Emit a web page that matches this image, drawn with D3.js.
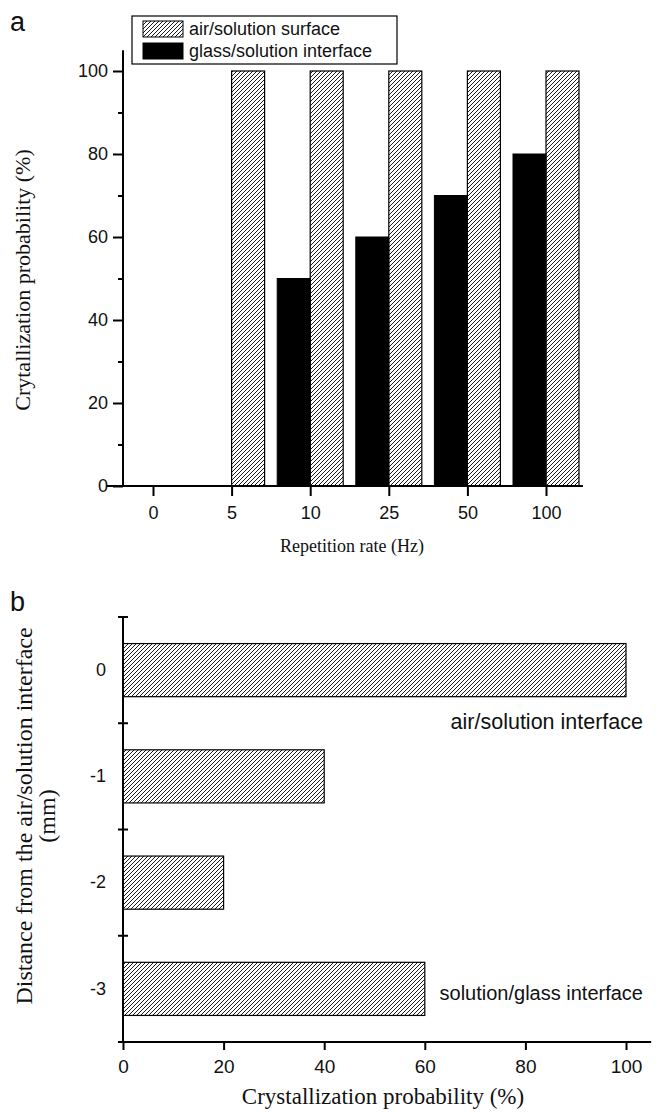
<!DOCTYPE html>
<html>
<head>
<meta charset="utf-8">
<script src="https://cdnjs.cloudflare.com/ajax/libs/d3/7.8.5/d3.min.js"></script>
<style>
  body { margin: 0; background: #fff; }
  .title { font-family: "Liberation Serif", "Times New Roman", serif; fill: #111; }
  .sans { font-family: "Liberation Sans", Arial, sans-serif; fill: #111; }
</style>
</head>
<body>
<script>
// panel a data
var rates = ["0", "5", "10", "25", "50", "100"];
var airSurface = [0, 100, 100, 100, 100, 100];
var glassInterface = [0, 0, 50, 60, 70, 80];
var yTicksA = [0, 20, 40, 60, 80, 100];
var yMinorA = [10, 30, 50, 70, 90];

// panel b data
var distances = ["0", "-1", "-2", "-3"];
var probability = [100, 40, 20, 60];
var xTicksB = [0, 20, 40, 60, 80, 100];

var W = 660, H = 1112;

var svg = d3.select("body").append("svg")
    .attr("width", W)
    .attr("height", H);

// style the tick labels of an axis group
function tickFont(g, size) {
  g.selectAll("text")
    .style("font-family", "'Liberation Sans', Arial, sans-serif")
    .style("font-size", size + "px")
    .style("fill", "#111");
}

// hatch pattern
var defs = svg.append("defs");
defs.append("pattern")
    .attr("id", "hatch")
    .attr("patternUnits", "userSpaceOnUse")
    .attr("width", 4)
    .attr("height", 4)
  .append("path")
    .attr("d", "M-1,1 l2,-2 M0,4 l4,-4 M3,5 l2,-2")
    .attr("stroke", "#1a1a1a")
    .attr("stroke-width", 1);

// ---------- panel a ----------
var yA = d3.scaleLinear().domain([0, 100]).range([486, 71]);
var xA = d3.scalePoint().domain(rates).range([153, 546]);
var barW = 33;

svg.append("text").attr("class", "sans")
    .attr("x", 10).attr("y", 31)
    .style("font-size", "27px")
    .text("a");

// black bars: left of the tick
svg.selectAll(".glass")
    .data(glassInterface)
    .enter().append("rect")
    .attr("class", "glass")
    .attr("x", function(d, i) { return xA(rates[i]) - barW; })
    .attr("y", function(d) { return yA(d); })
    .attr("width", barW)
    .attr("height", function(d) { return yA(0) - yA(d); })
    .attr("fill", "#000")
    .attr("stroke", d => d > 0 ? "#000" : "none");

// hatched bars: right of the tick
svg.selectAll(".air")
    .data(airSurface)
    .enter().append("rect")
    .attr("class", "air")
    .attr("x", function(d, i) { return xA(rates[i]); })
    .attr("y", function(d) { return yA(d); })
    .attr("width", barW)
    .attr("height", function(d) { return yA(0) - yA(d); })
    .attr("fill", "url(#hatch)")
    .attr("stroke", d => d > 0 ? "#000" : "none")
    .attr("stroke-width", 1.2);

// y axis
var gyA = svg.append("g")
    .attr("transform", "translate(123,0)")
    .call(d3.axisLeft(yA).tickValues(yTicksA).tickSize(10).tickPadding(5).tickSizeOuter(0));
gyA.select(".domain").remove();
gyA.selectAll("line").attr("stroke-width", 2);
tickFont(gyA, 18);

var gyAm = svg.append("g")
    .attr("transform", "translate(123,0)")
    .call(d3.axisLeft(yA).tickValues(yMinorA).tickSize(5).tickFormat(""));
gyAm.select(".domain").remove();
gyAm.selectAll("line").attr("stroke-width", 2);

svg.append("line")
    .attr("x1", 123).attr("x2", 123)
    .attr("y1", yA(0)).attr("y2", yA(105))
    .attr("stroke", "#000").attr("stroke-width", 2);

// x axis
var stepA = xA.step();
var gxA = svg.append("g")
    .attr("transform", "translate(0," + yA(0) + ")")
    .call(d3.axisBottom(xA).tickSize(10).tickPadding(10));
gxA.select(".domain").remove();
gxA.selectAll("line").attr("stroke-width", 2);
tickFont(gxA, 18);

svg.append("line")
    .attr("x1", xA(rates[0]) - 0.59 * stepA)
    .attr("x2", xA(rates[rates.length - 1]) + 0.47 * stepA)
    .attr("y1", yA(0)).attr("y2", yA(0))
    .attr("stroke", "#000").attr("stroke-width", 2);

svg.append("text").attr("class", "title")
    .attr("text-anchor", "middle")
    .attr("x", 352).attr("y", 552)
    .style("font-size", "18px")
    .text("Repetition rate (Hz)");

svg.append("text").attr("class", "title")
    .attr("text-anchor", "middle")
    .attr("transform", "translate(30,280) rotate(-90)")
    .style("font-size", "22px")
    .text("Crytallization probability (%)");

// legend
var legend = svg.append("g");
legend.append("rect")
    .attr("x", 132).attr("y", 16)
    .attr("width", 265).attr("height", 48)
    .attr("fill", "#fff").attr("stroke", "#000").attr("stroke-width", 1.2);
var legendItems = [
  {label: "air/solution surface", fill: "url(#hatch)"},
  {label: "glass/solution interface", fill: "#000"}
];
legend.selectAll(".sw")
    .data(legendItems)
    .enter().append("rect")
    .attr("x", 143)
    .attr("y", function(d, i) { return 21 + i * 22; })
    .attr("width", 40).attr("height", 16)
    .attr("fill", d => d.fill)
    .attr("stroke", "#000");
legend.selectAll(".lt")
    .data(legendItems)
    .enter().append("text")
    .attr("class", "sans")
    .attr("x", 189)
    .attr("y", function(d, i) { return 35 + i * 22; })
    .style("font-size", "18px")
    .text(d => d.label);

// ---------- panel b ----------
var xB = d3.scaleLinear().domain([0, 100]).range([123, 626]);
var yB = d3.scaleBand().domain(distances).range([617, 1042])
    .paddingInner(0.5).paddingOuter(0.25);
var stepB = yB.step();

svg.append("text").attr("class", "sans")
    .attr("x", 10).attr("y", 611)
    .style("font-size", "27px")
    .text("b");

svg.selectAll(".dist")
    .data(probability)
    .enter().append("rect")
    .attr("class", "dist")
    .attr("x", xB(0))
    .attr("y", function(d, i) { return yB(distances[i]); })
    .attr("width", function(d) { return xB(d) - xB(0); })
    .attr("height", yB.bandwidth())
    .attr("fill", "url(#hatch)")
    .attr("stroke", "#000")
    .attr("stroke-width", 1.2);

// y axis: labels at band centres, crossing ticks at band borders
var gyB = svg.append("g")
    .attr("transform", "translate(123,0)")
    .call(d3.axisLeft(yB).tickSize(0).tickPadding(17));
gyB.select(".domain").remove();
tickFont(gyB, 18);

var borders = d3.range(distances.length).map(function(i) { return yB.range()[0] + i * stepB; });
svg.selectAll(".border")
    .data(borders)
    .enter().append("line")
    .attr("x1", 118).attr("x2", 128)
    .attr("y1", d => d).attr("y2", d => d)
    .attr("stroke", "#000").attr("stroke-width", 2);

svg.append("line")
    .attr("x1", 123).attr("x2", 123)
    .attr("y1", yB.range()[0]).attr("y2", yB.range()[1])
    .attr("stroke", "#000").attr("stroke-width", 2);

// x axis
var gxB = svg.append("g")
    .attr("transform", "translate(0," + yB.range()[1] + ")")
    .call(d3.axisBottom(xB).tickValues(xTicksB).tickSize(8).tickPadding(10));
gxB.select(".domain").remove();
gxB.selectAll("line").attr("stroke-width", 2);
tickFont(gxB, 19);

svg.append("line")
    .attr("x1", xB(-1)).attr("x2", xB(105))
    .attr("y1", yB.range()[1]).attr("y2", yB.range()[1])
    .attr("stroke", "#000").attr("stroke-width", 2);

svg.append("text").attr("class", "title")
    .attr("text-anchor", "middle")
    .attr("x", 383).attr("y", 1104)
    .style("font-size", "23px")
    .text("Crystallization probability (%)");

svg.append("text").attr("class", "title")
    .attr("text-anchor", "middle")
    .attr("transform", "translate(32,816) rotate(-90)")
    .style("font-size", "24px")
    .text("Distance from the air/solution interface");
svg.append("text").attr("class", "title")
    .attr("text-anchor", "middle")
    .attr("transform", "translate(55,816) rotate(-90)")
    .style("font-size", "24px")
    .text("(mm)");

// annotations
svg.append("text").attr("class", "sans")
    .attr("text-anchor", "end")
    .attr("x", 643).attr("y", 729)
    .style("font-size", "21.5px")
    .text("air/solution interface");
svg.append("text").attr("class", "sans")
    .attr("text-anchor", "end")
    .attr("x", 643).attr("y", 1000)
    .style("font-size", "20px")
    .text("solution/glass interface");
</script>
</body>
</html>
